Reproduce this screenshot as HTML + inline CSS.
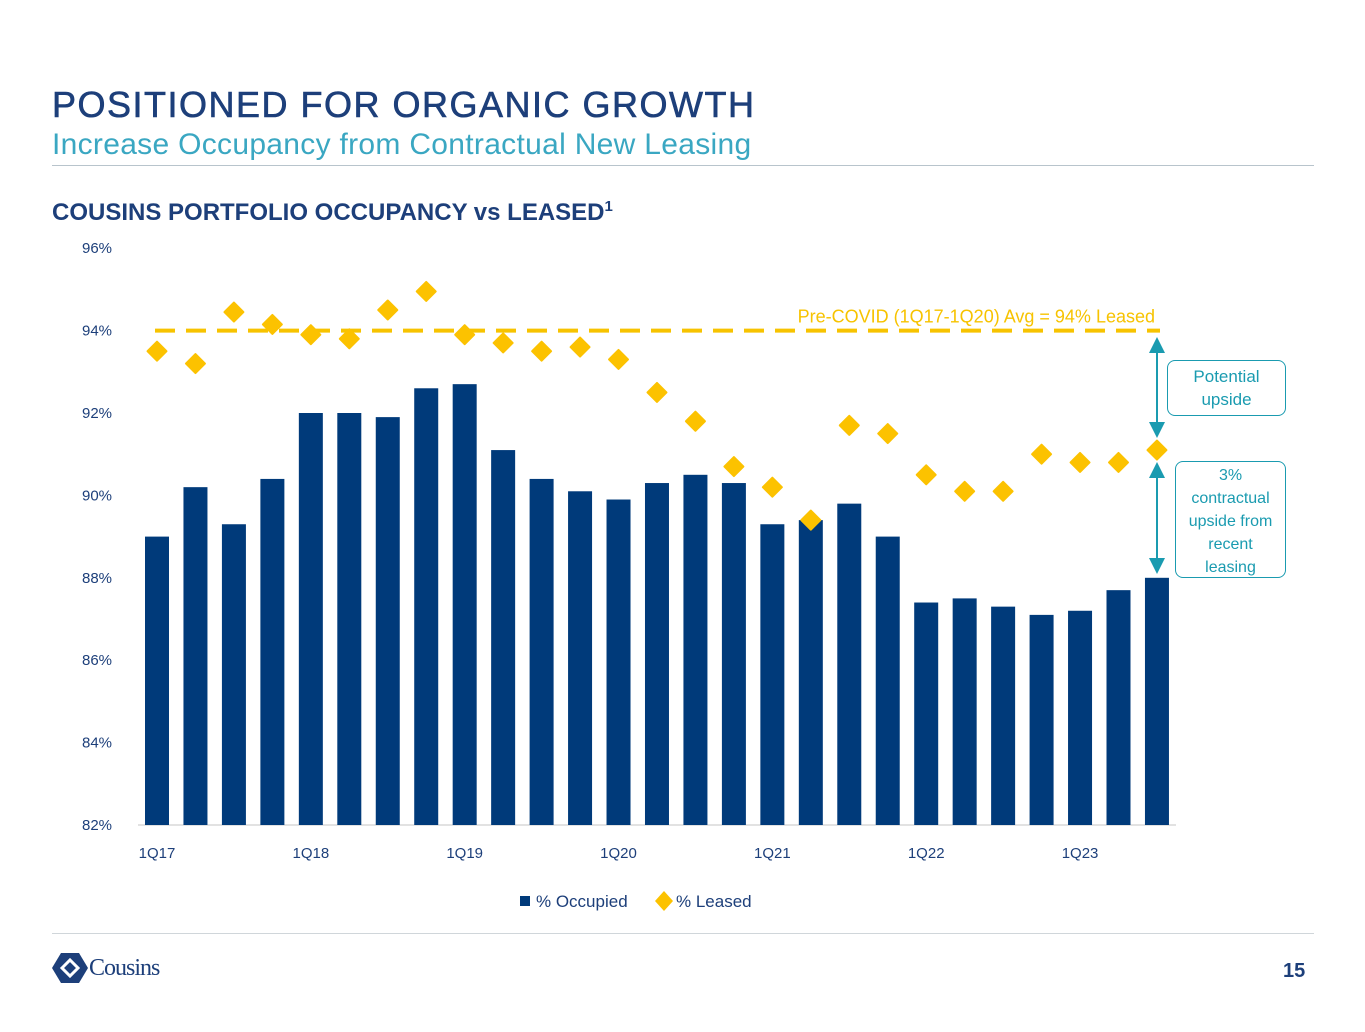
<!DOCTYPE html>
<html><head><meta charset="utf-8"><style>
body{margin:0;width:1365px;height:1032px;background:#fff;overflow:hidden;font-family:"Liberation Sans",sans-serif;position:relative}
.abs{position:absolute}
</style></head><body>
<div class="abs" style="left:52px;top:84px;font-size:36px;color:#1d3f7a;letter-spacing:1.5px;-webkit-text-stroke:0.6px #1d3f7a">POSITIONED FOR ORGANIC GROWTH</div>
<div class="abs" style="left:52px;top:128px;font-size:30px;color:#3aa7c2;font-weight:300;letter-spacing:0.3px">Increase Occupancy from Contractual New Leasing</div>
<div class="abs" style="left:52px;top:165px;width:1262px;height:1px;background:#b8c4cc"></div>
<div class="abs" style="left:52px;top:198px;font-size:24px;font-weight:bold;color:#1d3f7a">COUSINS PORTFOLIO OCCUPANCY vs LEASED<sup style="font-size:15px">1</sup></div>
<svg class="abs" style="left:0;top:0" width="1365" height="1032">
<g id="g"></g>
<defs><marker id="ah" markerWidth="8" markerHeight="8" refX="4" refY="4" orient="auto-start-reverse"><path d="M0,0L8,4L0,8z" fill="#1a9bb0"/></marker></defs>
<line x1="1157" y1="345" x2="1157" y2="430" stroke="#1a9bb0" stroke-width="2" marker-start="url(#ah)" marker-end="url(#ah)"/>
<line x1="1157" y1="470" x2="1157" y2="566" stroke="#1a9bb0" stroke-width="2" marker-start="url(#ah)" marker-end="url(#ah)"/>
</svg>
<div class="abs" style="left:1167px;top:360px;width:119px;height:56px;border:1.5px solid #1a9bb0;border-radius:8px;color:#1a9bb0;font-size:17px;text-align:center;line-height:23px;padding-top:4px;box-sizing:border-box">Potential<br>upside</div>
<div class="abs" style="left:1175px;top:461px;width:111px;height:117px;border:1.5px solid #1a9bb0;border-radius:8px;color:#1a9bb0;font-size:16px;text-align:center;line-height:23px;padding-top:2px;box-sizing:border-box;background:#fff">3%<br>contractual<br>upside from<br>recent<br>leasing</div>
<div class="abs" style="left:52px;top:933px;width:1262px;height:1px;background:#d0d6da"></div>
<div class="abs" style="left:52px;top:952px;display:flex;align-items:center">
<svg width="36" height="32"><polygon points="9,1 27,1 36,16 27,31 9,31 0,16" fill="#1d3f7a"/><path d="M10,16 L18,8 L26,16 L18,24 Z" fill="none" stroke="#fff" stroke-width="3"/></svg>
<span style="font-family:'Liberation Serif',serif;font-size:24px;color:#1d3f7a;margin-left:1px;letter-spacing:-1px">Cousins</span></div>
<div class="abs" style="left:1283px;top:960px;font-size:20px;color:#1d3f7a;font-weight:bold">15</div>
<script>
const categories=["1Q17","2Q17","3Q17","4Q17","1Q18","2Q18","3Q18","4Q18","1Q19","2Q19","3Q19","4Q19","1Q20","2Q20","3Q20","4Q20","1Q21","2Q21","3Q21","4Q21","1Q22","2Q22","3Q22","4Q22","1Q23","2Q23","3Q23"];
const occupied=[89.0,90.2,89.3,90.4,92.0,92.0,91.9,92.6,92.7,91.1,90.4,90.1,89.9,90.3,90.5,90.3,89.3,89.4,89.8,89.0,87.4,87.5,87.3,87.1,87.2,87.7,88.0];
const leased=[93.5,93.2,94.45,94.15,93.9,93.8,94.5,94.95,93.9,93.7,93.5,93.6,93.3,92.5,91.8,90.7,90.2,89.4,91.7,91.5,90.5,90.1,90.1,91.0,90.8,90.8,91.1];
const yTicks=[82,84,86,88,90,92,94,96];
const avgLeased=94;
const ns="http://www.w3.org/2000/svg",g=document.getElementById('g');
const y=v=>825-(v-82)*41.2;
const x=i=>157+i*38.46;
function mk(t,a){const e=document.createElementNS(ns,t);for(const k in a)e.setAttribute(k,a[k]);g.appendChild(e);return e;}
let e=mk('line',{x1:138,x2:1176,y1:825,y2:825,stroke:'#d9d9d9','stroke-width':1.5});


yTicks.forEach(v=>{const t=mk('text',{x:82,y:y(v)+5,'font-size':15,fill:'#1d3f7a','font-family':'Liberation Sans,sans-serif'});t.textContent=v+'%';

});
categories.forEach((c,i)=>{if(i%4==0){const t=mk('text',{x:x(i),y:858,'font-size':15,fill:'#1d3f7a','text-anchor':'middle','font-family':'Liberation Sans,sans-serif'});t.textContent=c;

}});
occupied.forEach((v,i)=>{const r=mk('rect',{x:x(i)-12,y:y(v),width:24,height:825-y(v),fill:'#003a7a'});

});
e=mk('line',{x1:155,x2:1160,y1:y(avgLeased),y2:y(avgLeased),stroke:'#f7c300','stroke-width':4,'stroke-dasharray':'20 11'});


e=mk('text',{x:1155,y:y(avgLeased)-8,'font-size':18,fill:'#f7c300','text-anchor':'end','font-family':'Liberation Sans,sans-serif'});e.textContent='Pre-COVID (1Q17-1Q20) Avg = 94% Leased';


leased.forEach((v,i)=>{const cx=x(i),cy=y(v),d=9.5;const p=mk('path',{d:`M${cx},${cy-d}L${cx+d},${cy}L${cx},${cy+d}L${cx-d},${cy}Z`,fill:'#fcc200','stroke':'#fcc200','stroke-width':2,'stroke-linejoin':'round'});

});
e=mk('rect',{x:520,y:896,width:10,height:10,fill:'#003a7a'});


e=mk('text',{x:536,y:907,'font-size':17,fill:'#1d3f7a','font-family':'Liberation Sans,sans-serif'});e.textContent='% Occupied';


e=mk('path',{d:'M664,891L673,901L664,911L655,901Z',fill:'#fcc200'});


e=mk('text',{x:676,y:907,'font-size':17,fill:'#1d3f7a','font-family':'Liberation Sans,sans-serif'});e.textContent='% Leased';


</script>
</body></html>
